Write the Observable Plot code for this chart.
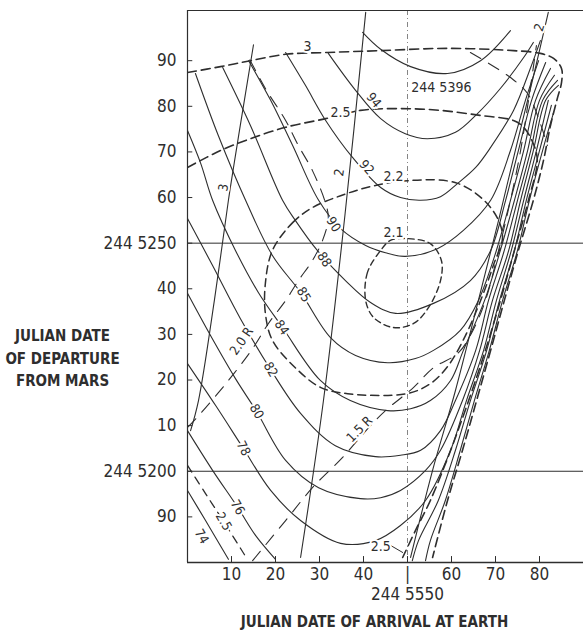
<!DOCTYPE html>
<html>
<head>
<meta charset="utf-8">
<script src="https://cdn.jsdelivr.net/npm/d3@7"></script>
<script src="https://cdn.jsdelivr.net/npm/@observablehq/plot@0.6"></script>
<style>
  html, body { margin: 0; padding: 0; background: #fff; }
</style>
</head>
<body>
<div id="chart"></div>
<script>
// Earth-return transfer chart: arrival date at Earth (x, days after JD 244 5500)
// against departure date from Mars (y, Julian date 244 5xxx).

// ---- axes -------------------------------------------------------------
const xTicks = [10, 20, 30, 40, 50, 60, 70, 80];
const xTickLabels = ["10", "20", "30", "40", "|", "60", "70", "80"];
const xRefLabel = "244 5550";
const yTicks = [5190, 5200, 5210, 5220, 5230, 5240, 5250, 5260, 5270, 5280, 5290];
const yTickLabels = ["90", "244 5200", "10", "20", "30", "40", "244 5250", "60", "70", "80", "90"];
const yTitle = "JULIAN DATE\nOF DEPARTURE\nFROM MARS";
const xTitle = "JULIAN DATE OF ARRIVAL AT EARTH";
const refDepartures = [5200, 5250];
const refArrival = 50;

// ---- solid contours: launch date from Earth (244 53xx) ----------------
const c5396 = [[39.8,5296.2],[43.9,5292.5],[50.7,5288.7],[59.1,5287.2],[66.6,5290.0],[73.4,5296.6]];
const c94 = [[32.0,5291.6],[38.2,5283.5],[43.9,5277.3],[49.5,5274.0],[54.5,5272.9],[60.9,5274.3],[65.9,5278.4],[71.1,5283.9],[76.4,5290.7],[78.6,5294.0]];
const c92 = [[22.3,5291.8],[26.8,5284.6],[31.4,5276.9],[37.5,5268.8],[43.9,5262.2],[48.4,5260.0],[53.0,5259.4],[57.5,5260.2],[61.4,5263.1],[65.5,5266.6],[68.9,5271.0],[74.1,5279.1],[78.0,5288.5],[80.2,5294.4]];
const c90 = [[13.9,5290.0],[18.9,5281.3],[23.9,5271.4],[29.8,5259.4],[34.8,5253.2],[40.5,5249.5],[45.0,5247.9],[49.5,5247.1],[56.8,5248.8],[62.7,5252.8],[68.9,5259.4],[73.4,5270.3],[76.8,5281.3],[79.8,5290.0]];
const c88 = [[8.0,5288.5],[14.3,5275.8],[21.6,5259.4],[24.5,5255.0],[29.5,5248.4],[35.9,5241.8],[41.6,5237.0],[47.3,5234.6],[55.9,5236.8],[64.3,5241.8],[68.9,5248.4],[72.3,5259.4],[75.2,5270.3],[78.2,5281.3],[81.4,5289.6]];
const c85 = [[1.8,5287.2],[7.0,5273.6],[13.2,5259.4],[19.3,5247.3],[25.7,5239.2],[32.5,5229.3],[38.2,5225.4],[45.5,5223.8],[51.8,5224.7],[55.9,5226.5],[62.0,5230.9],[66.1,5237.4],[70.2,5248.4],[73.4,5259.4],[76.4,5270.3],[79.1,5281.3],[82.5,5288.3]];
const c84 = [[0,5274.7],[3.0,5267.5],[5.7,5259.4],[10.9,5248.4],[16.1,5239.2],[21.6,5231.5],[30.2,5219.9],[37.0,5215.5],[45.5,5213.3],[50.7,5213.7],[55.2,5215.5],[59.8,5219.9],[62.7,5226.5],[67.5,5237.4],[71.1,5248.4],[74.3,5259.4],[77.3,5270.3],[80.0,5281.3],[83.4,5286.8]];
const c82 = [[0,5255.4],[5.7,5245.1],[12.0,5233.5],[18.9,5222.3],[25.7,5212.7],[33.6,5205.6],[42.7,5203.2],[48.4,5203.5],[53.0,5204.6],[57.5,5208.9],[60.9,5215.5],[65.5,5226.5],[68.4,5237.4],[72.0,5248.4],[75.0,5259.4],[78.0,5270.3],[80.7,5281.3],[84.1,5285.7]];
const c80 = [[0,5239.0],[5.2,5229.8],[10.9,5220.3],[15.7,5213.1],[22.3,5202.4],[29.8,5196.4],[39.3,5194.0],[43.9,5194.2],[48.4,5195.8],[54.1,5200.2],[57.5,5204.6],[62.5,5215.5],[66.4,5226.5],[69.3,5237.4],[73.0,5248.4],[75.7,5259.4],[78.6,5270.3],[81.4,5281.3],[84.3,5284.6]];
const c78 = [[0,5223.6],[6.4,5214.4],[12.7,5205.0],[18.9,5195.8],[25.7,5189.2],[34.8,5184.2],[42.7,5184.8],[48.4,5188.1],[54.1,5193.6],[59.8,5204.6],[63.4,5215.5],[67.3,5226.5],[70.2,5237.4],[73.6,5248.4],[76.4,5259.4],[79.3,5270.3],[82.0,5281.3]];
const c76Left = [[0,5208.9],[5.7,5200.2],[11.4,5192.1],[15.5,5185.9],[20.0,5180.7]];
const c76Right = [[51.1,5180.4],[52.5,5184.8],[57.0,5193.6],[60.9,5204.6],[64.3,5215.5],[68.0,5226.5],[70.9,5237.4],[74.3,5248.4],[77.0,5259.4],[80.0,5270.3],[82.7,5280.2]];
const c74Left = [[0,5195.8],[4.1,5189.2],[9.3,5180.7]];
const c74Right = [[54.1,5180.4],[55.2,5184.8],[58.6,5193.6],[62.0,5204.6],[65.2,5215.5],[68.6,5226.5],[71.6,5237.4],[75.0,5248.4],[77.7,5259.4],[80.7,5270.3],[83.2,5278.6]];

// ---- dashed contours (2.1 ... 3) --------------------------------------
const d3 = [[0,5287.4],[7.5,5288.7],[14.3,5290.0],[22.3,5291.4],[31.8,5291.8],[43.9,5292.2],[59.1,5292.7],[74.1,5292.2],[80.2,5291.6],[83.2,5290.5],[85.0,5288.3],[85.0,5285.2],[84.1,5281.9],[82.5,5275.8],[80.9,5268.1],[78.6,5259.4],[75.2,5248.4],[72.0,5237.4],[68.9,5226.5],[65.7,5215.5],[62.5,5204.6],[59.1,5193.6],[55.7,5181.1]];
const d25 = [[0,5266.6],[7.5,5270.3],[14.3,5272.9],[22.3,5275.4],[31.4,5277.3],[39.3,5279.1],[48.4,5279.5],[57.5,5279.1],[66.6,5278.0],[74.1,5276.9],[76.4,5275.4],[78.6,5271.8],[79.5,5268.1],[77.5,5259.4],[74.3,5248.4],[71.1,5237.4],[67.7,5226.5],[63.9,5215.5],[59.8,5204.6],[55.2,5193.6],[51.8,5187.0],[48.9,5181.1]];
const d25Low = [[0,5201.3],[4.1,5195.1],[8.2,5189.0],[13.6,5180.7]];
const d22 = [[19.3,5248.4],[23.9,5254.5],[28.4,5257.8],[34.8,5260.4],[41.6,5262.4],[50.0,5263.7],[61.4,5263.1],[68.9,5257.8],[71.6,5251.7],[69.5,5245.1],[66.6,5237.4],[63.2,5229.8],[59.3,5223.2],[55.2,5219.2],[49.8,5217.0],[36.4,5217.0],[30.2,5218.4],[24.5,5222.7],[19.3,5228.7],[17.7,5234.6],[17.7,5241.2]];
const d21 = [[43.9,5248.4],[40.9,5243.6],[40.5,5237.4],[42.3,5233.7],[46.8,5231.5],[51.4,5232.4],[54.8,5235.9],[57.5,5241.8],[57.7,5246.2],[55.2,5249.9],[50.0,5251.0],[46.1,5250.6]];

// ---- long-dash distance lines (1.5 R, 2.0 R) ---------------------------
const r15 = [[14.8,5180.4],[22.3,5189.2],[28.4,5196.4],[35.2,5203.0],[41.6,5210.0],[45.0,5213.3],[51.4,5218.4],[55.9,5222.7],[61.4,5225.8],[64.3,5229.8],[67.7,5237.4],[70.7,5248.4],[73.4,5259.4],[75.7,5270.3],[77.5,5281.3],[79.3,5293.3]];
const r20 = [[0,5209.6],[3.0,5212.7],[9.3,5219.9],[14.8,5226.9],[18.4,5232.4],[22.3,5237.4],[25.2,5241.8],[28.4,5246.2],[30.7,5250.6],[32.0,5255.4],[31.4,5258.7],[28.4,5265.9],[25.2,5271.4],[22.3,5276.9],[17.7,5283.9],[13.9,5290.7]];
const rUpper = [[64.3,5291.8],[73.4,5286.3],[77.3,5282.8],[80.2,5276.2],[81.8,5271.4]];

// ---- steep solid lines (2, 3) -----------------------------------------
const s3 = [[15.0,5293.5],[12.0,5275.8],[9.3,5259.4],[6.1,5237.4],[2.5,5215.5],[0.7,5208.9]];
const s2 = [[40.5,5300.6],[35.9,5257.2],[30.9,5215.5],[25.7,5181.1]];
const s2Right = [[82.0,5300.6],[78.4,5285.7],[74.5,5270.3],[70.7,5255.0],[66.1,5237.4],[60.9,5217.7],[55.7,5200.2],[50.7,5181.1]];

// ---- contour labels ---------------------------------------------------
const launchLabels = ["94", "92", "90", "88", "85", "84", "82", "80", "78", "76", "74"];
const launchLabelX = [42.3, 40.7, 33.2, 31.1, 26.4, 21.4, 18.9, 15.7, 12.7, 11.4, 3.2];
const launchLabelY = [5281.3, 5266.6, 5254.1, 5246.4, 5238.7, 5231.5, 5222.3, 5213.1, 5205.0, 5192.1, 5185.7];
const flatLabels = ["244 5396", "3", "2.5", "2.2", "2.1", "2.5"];
const flatLabelX = [57.7, 27.3, 34.8, 46.8, 46.8, 43.9];
const flatLabelY = [5284.1, 5293.1, 5278.6, 5264.6, 5252.3, 5183.5];
const slantLabels = ["2.0 R", "1.5 R", "2.5", "3", "2", "2"];
const slantLabelX = [12.3, 39.1, 8.2, 8.2, 34.5, 80.0];
const slantLabelY = [5228.5, 5209.2, 5189.0, 5262.2, 5265.5, 5297.3];
const leader25 = [[45.7,5184.0],[48.9,5182.2]];

// ---- drawing ----------------------------------------------------------
const FONT = "'Liberation Sans Narrow', 'DejaVu Sans Condensed', 'Roboto Condensed', 'Arial Narrow', sans-serif";
const ink = "#2e2e2e";

const toRows = (groups) => groups.flatMap((pts, k) => pts.map(([x, y]) => ({x, y, k})));

const solidRows = toRows([c5396, c94, c92, c90, c88, c85, c84, c82, c80, c78, c76Left, c76Right, c74Left, c74Right]);
const steepRows = toRows([s3, s2, s2Right]);
const dashedRows = toRows([d3, d25]);
const rRows = toRows([r15, r20, rUpper]);

const launchRotate = [50, 50, 58, 58, 58, 56, 60, 60, 63, 60, 60];
const slantRotate = [-55, -45, 60, -80, -82, -72];

const launchData = launchLabels.map((t, i) => ({t, x: launchLabelX[i], y: launchLabelY[i], r: launchRotate[i]}));
const flatData = flatLabels.map((t, i) => ({t, x: flatLabelX[i], y: flatLabelY[i]}));
const slantData = slantLabels.map((t, i) => ({t, x: slantLabelX[i], y: slantLabelY[i], r: slantRotate[i]}));

const chart = Plot.plot({
  width: 583,
  height: 634,
  marginLeft: 187,
  marginRight: 0,
  marginTop: 10,
  marginBottom: 72,
  x: {domain: [0, 90], axis: null},
  y: {domain: [5180, 5301], axis: null},
  style: {fontFamily: FONT, background: "#fff", color: ink},
  marks: [
    // reference grid lines
    Plot.ruleX([refArrival], {stroke: "#777", strokeWidth: 0.9, strokeDasharray: "5,3,1,3"}),
    Plot.ruleX([90], {stroke: "#aaa", strokeWidth: 0.8, strokeDasharray: "2,3"}),
    Plot.ruleY(refDepartures, {stroke: ink, strokeWidth: 1}),

    // frame
    Plot.ruleY([5301], {stroke: ink, strokeWidth: 1.2}),
    Plot.ruleY([5180], {stroke: ink, strokeWidth: 1.4}),
    Plot.ruleX([0], {stroke: ink, strokeWidth: 1.2}),

    // inward ticks
    Plot.ruleY(yTicks, {x1: 0, x2: 1.2, stroke: ink, strokeWidth: 1}),
    Plot.ruleX(xTicks, {y1: 5180, y2: 5181.3, stroke: ink, strokeWidth: 1}),

    // contour families
    Plot.line(solidRows, {x: "x", y: "y", z: "k", curve: "catmull-rom", stroke: ink, strokeWidth: 1.1, clip: true}),
    Plot.line(steepRows, {x: "x", y: "y", z: "k", curve: "catmull-rom", stroke: ink, strokeWidth: 1.1, clip: true}),
    Plot.line(dashedRows, {x: "x", y: "y", z: "k", curve: "catmull-rom", stroke: ink, strokeWidth: 1.6, strokeDasharray: "9,5", clip: true}),
    Plot.line(d25Low, {x: d => d[0], y: d => d[1], curve: "catmull-rom", stroke: ink, strokeWidth: 1.3, strokeDasharray: "8,6", clip: true}),
    Plot.line(d22, {x: d => d[0], y: d => d[1], curve: "catmull-rom-closed", stroke: ink, strokeWidth: 1.5, strokeDasharray: "8,5", clip: true}),
    Plot.line(d21, {x: d => d[0], y: d => d[1], curve: "catmull-rom-closed", stroke: ink, strokeWidth: 1.4, strokeDasharray: "6,4", clip: true}),
    Plot.line(rRows, {x: "x", y: "y", z: "k", curve: "catmull-rom", stroke: ink, strokeWidth: 1.1, strokeDasharray: "12,9", clip: true}),
    Plot.line(leader25, {x: d => d[0], y: d => d[1], stroke: ink, strokeWidth: 1}),

    // contour labels
    Plot.text(launchData, {x: "x", y: "y", text: "t", rotate: "r", fontSize: 13, fill: ink,
      stroke: "#fff", strokeWidth: 4, paintOrder: "stroke"}),
    Plot.text(flatData, {x: "x", y: "y", text: "t", fontSize: 14, fill: ink,
      stroke: "#fff", strokeWidth: 4, paintOrder: "stroke"}),
    Plot.text(slantData, {x: "x", y: "y", text: "t", rotate: "r", fontSize: 13, fill: ink,
      stroke: "#fff", strokeWidth: 4, paintOrder: "stroke"}),

    // tick labels
    Plot.text(yTicks, {x: 0, y: d => d, text: (d, i) => yTickLabels[i], textAnchor: "end", dx: -11, fontSize: 17, fill: ink}),
    Plot.text(xTicks, {x: d => d, y: 5180, text: (d, i) => xTickLabels[i], dy: 12, lineAnchor: "middle", fontSize: 17, fill: ink}),
    Plot.text([xRefLabel], {x: refArrival, y: 5180, text: d => d, dy: 32, lineAnchor: "middle", fontSize: 17, fill: ink}),

    // axis titles
    Plot.text([yTitle], {x: 0, y: 5225.2, text: d => d, dx: -125, textAnchor: "middle", lineAnchor: "middle", lineHeight: 1.5, fontSize: 15, fontWeight: "bold", fill: ink}),
    Plot.text([xTitle], {frameAnchor: "bottom", text: d => d, dx: -11, dy: 60, lineAnchor: "middle", fontSize: 15, fontWeight: "bold", fill: ink})
  ]
});

document.getElementById("chart").appendChild(chart);
</script>
</body>
</html>
